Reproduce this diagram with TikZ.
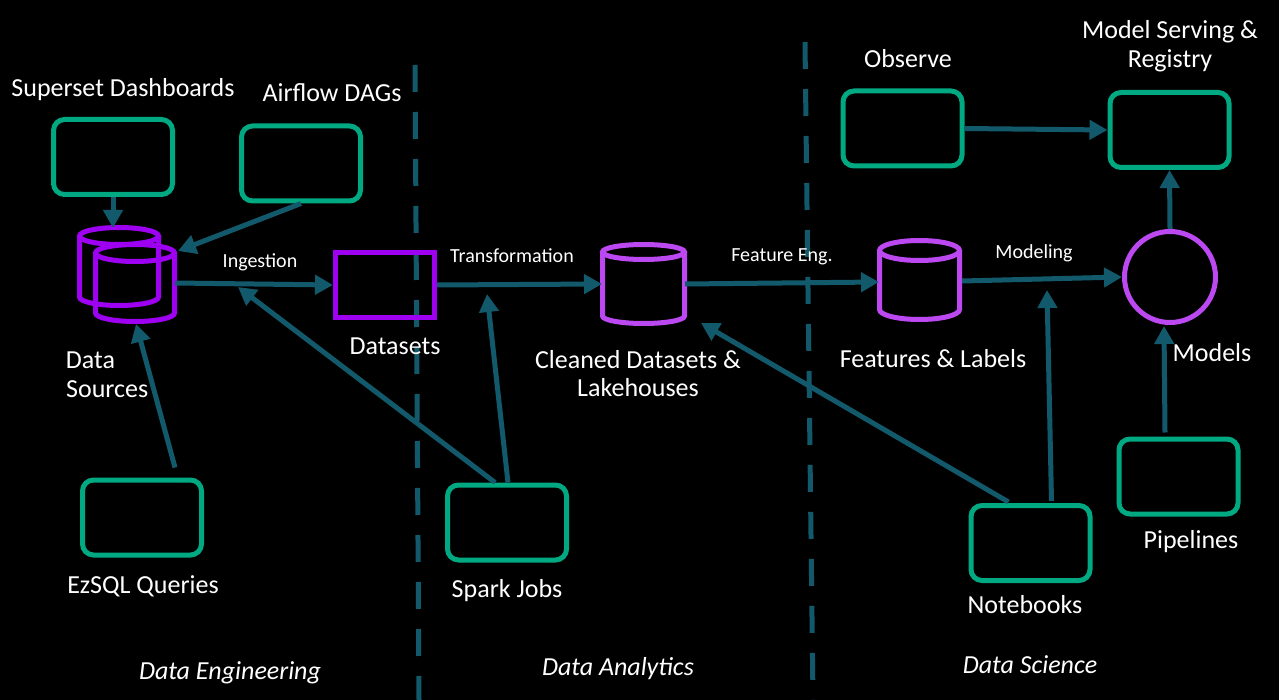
\documentclass[tikz,border=0pt]{standalone}
\usepackage{fontspec}
\setmainfont{Carlito}
\usetikzlibrary{arrows.meta,calc}
\definecolor{teal}{HTML}{125A6B}
\definecolor{hgreen}{HTML}{01A982}
\definecolor{dpurple}{HTML}{9E00F2}
\definecolor{lpurple}{HTML}{BC48F2}
\tikzset{
  gbox/.style={draw=hgreen,line width=5pt,rounded corners=11pt,minimum width=119pt,minimum height=75pt,inner sep=0pt},
  pbox/.style={draw=dpurple,line width=5pt,minimum width=99pt,minimum height=65pt,inner sep=0pt},
  ghost/.style={inner sep=0pt},
  cyl/.style={line width=5pt},
  conn/.style={draw=teal,line width=5pt,-{Triangle[length=18pt,width=19pt]}},
  divider/.style={draw=teal,line width=5pt,dash pattern=on 27pt off 20pt},
  lbl/.style={text=white,font=\fontsize{26}{29}\selectfont,inner sep=0pt,anchor=base},
  slbl/.style={text=white,font=\fontsize{20}{24}\selectfont,inner sep=0pt,anchor=base},
  ilbl/.style={text=white,font=\fontsize{26}{29}\selectfont\itshape,inner sep=0pt,anchor=base},
}
\begin{document}
\begin{tikzpicture}[x=1pt,y=-1pt]
\fill[black] (0,0) rectangle (1279,700);
\useasboundingbox (0,0) rectangle (1279,700);

% dividers
\coordinate (d1a) at (415,65); \coordinate (d1b) at (419,700);
\coordinate (d2a) at (805,42); \coordinate (d2b) at (813,700);
\draw[divider] (d1a) -- (d1b);
\draw[divider] (d2a) -- (d2b);

% green boxes
\node[gbox] (superset) at (113,157) {};
\node[gbox] (airflow) at (301,163.5) {};
\node[gbox] (ezsql) at (142,517.5) {};
\node[gbox] (spark) at (507,522.5) {};
\node[gbox] (notebooks) at (1030.5,543) {};
\node[gbox] (pipelines) at (1178.5,476.5) {};
\node[gbox] (observe) at (902.5,128.5) {};
\node[gbox] (serving) at (1169.5,130) {};

% datasets
\node[pbox] (datasets) at (385,285) {};

% data sources (two cylinders)
\draw[cyl,dpurple] (119,236) ellipse [x radius=39.5,y radius=8.5];
\draw[cyl,dpurple] (79.5,236) -- (79.5,297) arc[start angle=180,end angle=0,x radius=39.5,y radius=8.5] -- (158.5,236);
\draw[cyl,dpurple] (135,253) ellipse [x radius=39.5,y radius=8.5];
\draw[cyl,dpurple] (95.5,253) -- (95.5,313) arc[start angle=180,end angle=0,x radius=39.5,y radius=8.5] -- (174.5,253);
\node[ghost,minimum width=100pt,minimum height=99pt] (ds) at (127,274.5) {};

% cleaned datasets cylinder
\draw[cyl,lpurple] (643.5,252) ellipse [x radius=41,y radius=7.5];
\draw[cyl,lpurple] (602.5,252) -- (602.5,316) arc[start angle=180,end angle=0,x radius=41,y radius=7.5] -- (684.5,252);
\node[ghost,minimum width=87pt,minimum height=84pt] (clean) at (643.5,284) {};

% features cylinder
\draw[cyl,lpurple] (919.5,250.5) ellipse [x radius=40,y radius=10];
\draw[cyl,lpurple] (879.5,250.5) -- (879.5,309.5) arc[start angle=180,end angle=0,x radius=40,y radius=10] -- (959.5,250.5);
\node[ghost,minimum width=85pt,minimum height=84pt] (features) at (919.5,280) {};

% models circle
\node[draw=lpurple,line width=5pt,circle,minimum size=91pt,inner sep=0pt] (models) at (1170,277) {};

% connector coordinates
\coordinate (dsTop) at (113,228);
\coordinate (dsRight) at (178,251);
\coordinate (dsOut) at (175,283);
\coordinate (dsBottom) at (136,324);
\coordinate (ingMid) at (238,287);
\coordinate (trMid) at (487,294);
\coordinate (clOut) at (685,284);
\coordinate (clIn) at (602,284);
\coordinate (clLow) at (701,323);
\coordinate (ftIn) at (879,282);
\coordinate (ftOut) at (962,281);
\coordinate (modMid) at (1047,290);
\coordinate (modLow) at (1164,326);

\draw[conn] (superset.south) -- (dsTop);
\draw[conn] (airflow.south) -- (dsRight);
\draw[conn] (dsOut) -- (datasets.west);
\draw[conn] ($(spark.north)+(-12,0)$) -- (ingMid);
\draw[conn] ($(ezsql.north)+(33,-10)$) -- (dsBottom);
\draw[conn] (datasets.east) -- (clIn);
\draw[conn] ($(spark.north)+(1,0)$) -- (trMid);
\draw[conn] (clOut) -- (ftIn);
\draw[conn] ($(notebooks.north)+(-22,-1)$) -- (clLow);
\draw[conn] (ftOut) -- (models.west);
\draw[conn] ($(notebooks.north)+(21,-2)$) -- (modMid);
\draw[conn] ($(pipelines.north)+(-13.5,-4)$) -- (modLow);
\draw[conn] (models.north) -- (serving.south);
\draw[conn] (observe.east) -- (serving.west);

% labels
\node[lbl] (tSuperset) at (123,97) {Superset Dashboards};
\node[lbl] (tAirflow) at (332,102) {Airflow DAGs};
\node[lbl] (tDs1) at (90.5,368) {Data};
\node[lbl,anchor=base west] (tDs2) at (66,397) {Sources};
\node[lbl] (tDatasets) at (395,354) {Datasets};
\node[lbl] (tClean1) at (638,368) {Cleaned Datasets \&};
\node[lbl] (tClean2) at (638,396) {Lakehouses};
\node[lbl] (tFeat) at (933,367) {Features \& Labels};
\node[lbl] (tModels) at (1212,362) {Models};
\node[lbl] (tObserve) at (908,68) {Observe};
\node[lbl] (tServ1) at (1170,39) {Model Serving \&};
\node[lbl] (tServ2) at (1170,68) {Registry};
\node[lbl] (tEz) at (143,593) {EzSQL Queries};
\node[lbl] (tSpark) at (507,597) {Spark Jobs};
\node[lbl] (tNb) at (1025,613) {Notebooks};
\node[lbl] (tPipe) at (1191,548) {Pipelines};
\node[ilbl] (tDE) at (230,679) {Data Engineering};
\node[ilbl] (tDA) at (618,675) {Data Analytics};
\node[ilbl] (tDSc) at (1030,673) {Data Science};
\node[slbl] (tIng) at (260,268) {Ingestion};
\node[slbl] (tTr) at (512,263) {Transformation};
\node[slbl] (tFE) at (782,262) {Feature Eng.};
\node[slbl] (tMod) at (1034,259) {Modeling};
\end{tikzpicture}
\end{document}
